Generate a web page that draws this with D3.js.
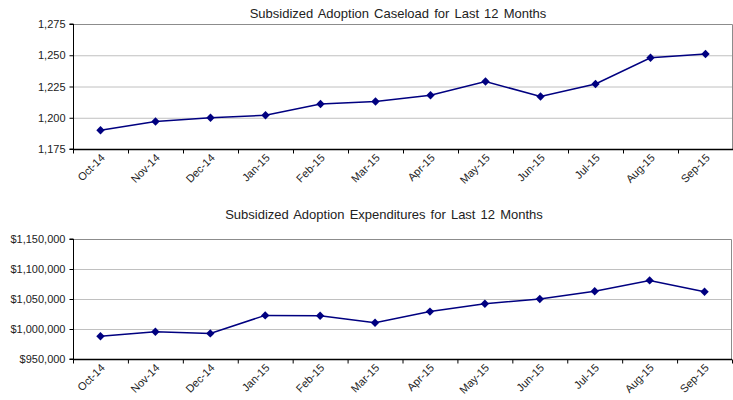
<!DOCTYPE html>
<html><head><meta charset="utf-8">
<script src="https://cdn.jsdelivr.net/npm/d3@7"></script>
<style>body{margin:0;background:#fff}svg{display:block}text{font-family:"Liberation Sans",Arial,sans-serif;fill:#222}</style>
</head><body>
<svg id="c" width="733" height="400"></svg>
<script>
const months = ["Oct-14","Nov-14","Dec-14","Jan-15","Feb-15","Mar-15","Apr-15","May-15","Jun-15","Jul-15","Aug-15","Sep-15"];
const caseload = [1190,1197,1200,1202,1211,1213,1218,1229,1217,1227,1248,1251];
const expenditures = [988000,995500,992700,1022700,1022000,1010500,1029000,1042000,1050000,1063000,1081000,1062000];
const caseloadTicks = [1175,1200,1225,1250,1275];
const expTicks = [950000,1000000,1050000,1100000,1150000];
const title1 = "Subsidized Adoption Caseload for Last 12 Months";
const title2 = "Subsidized Adoption Expenditures for Last 12 Months";

const svg = d3.select("#c");

function chart(cfg){
  const g = svg.append("g");
  const x = d3.scaleBand().domain(months).range([cfg.left, cfg.right]);
  const y = d3.scaleLinear().domain(cfg.domain).range([cfg.bottom, cfg.top]);
  g.append("text").attr("x", cfg.titleX).attr("y", cfg.titleY).attr("text-anchor","middle")
    .style("font-size","13px").style("word-spacing","1.5px").text(cfg.title);
  g.selectAll(".grid").data(cfg.ticks.slice(1,-1)).enter().append("line")
    .attr("x1", cfg.left).attr("x2", cfg.right)
    .attr("y1", d=>y(d)+0.5).attr("y2", d=>y(d)+0.5)
    .attr("stroke","#c0c0c0").attr("stroke-width",1);
  g.append("path").attr("d", `M${cfg.left},${y(cfg.domain[1])+0.5}H${cfg.right-0.5}V${cfg.bottom}`)
    .attr("fill","none").attr("stroke","#8c8c8c").attr("stroke-width",1);
  const ya = g.append("g").attr("transform",`translate(${cfg.left+0.5},0)`)
    .call(d3.axisLeft(y).tickValues(cfg.ticks).tickSize(4).tickPadding(4).tickFormat(cfg.fmt));
  ya.select(".domain").attr("stroke","#000").attr("d",`M-4,${y(cfg.domain[0])}H0V${y(cfg.domain[1])}H-4`);
  ya.selectAll("line").attr("stroke","#000");
  ya.selectAll("text").style("font-size","11px").style("font-family","Liberation Sans, Arial, sans-serif").attr("fill","#222");
  const xa = g.append("g").attr("transform",`translate(0,${cfg.bottom+0.5})`);
  xa.append("line").attr("x1",cfg.left).attr("x2",cfg.right).attr("stroke","#000").attr("stroke-width",1.5);
  xa.selectAll(".xt").data(months.concat(["__end"])).enter().append("line")
    .attr("x1",(d,i)=> (i<months.length? x(d): cfg.right)+0.5)
    .attr("x2",(d,i)=> (i<months.length? x(d): cfg.right)+0.5)
    .attr("y1",0).attr("y2",4).attr("stroke","#000");
  xa.selectAll(".xl").data(months).enter().append("text")
    .attr("transform", d=>`translate(${x(d)+x.bandwidth()/2+5},${9}) rotate(-45)`)
    .attr("text-anchor","end").style("font-size","11px").text(d=>d);
  const line = d3.line().x((d,i)=>x(months[i])+x.bandwidth()/2).y(d=>y(d));
  g.append("path").datum(cfg.values).attr("d",line).attr("fill","none")
    .attr("stroke","#000080").attr("stroke-width",1.5);
  g.selectAll(".pt").data(cfg.values).enter().append("path")
    .attr("d", d3.symbol(d3.symbolDiamond2 || d3.symbolDiamond, 45))
    .attr("transform",(d,i)=>`translate(${x(months[i])+x.bandwidth()/2},${y(d)})`)
    .attr("fill","#000080");
}

chart({left:73,right:733,top:24,bottom:149,domain:[1175,1275],ticks:caseloadTicks,values:caseload,
  fmt:d3.format(","),title:title1,titleX:398,titleY:18});
chart({left:73,right:732,top:239,bottom:359,domain:[950000,1150000],ticks:expTicks,values:expenditures,
  fmt:d=>"$"+d3.format(",")(d),title:title2,titleX:384,titleY:219});
</script>
</body></html>
